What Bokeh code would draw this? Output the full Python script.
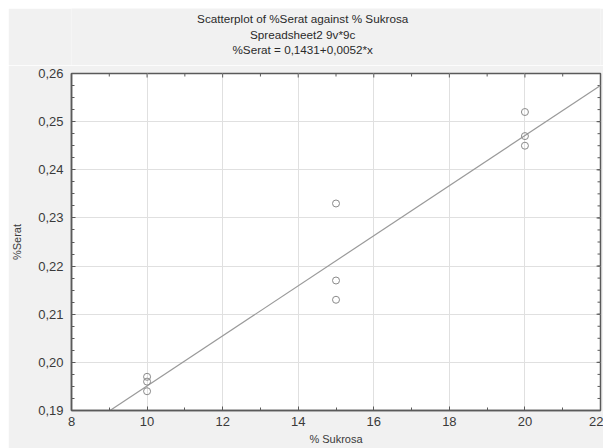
from bokeh.plotting import figure
from bokeh.layouts import column, row, Spacer
from bokeh.models import (Range1d, FixedTicker, CustomJSTickFormatter, ColumnDataSource)
from bokeh.core.properties import value
from bokeh.embed import file_html
from bokeh.resources import INLINE

# ---- data ----
sukrosa = [10, 10, 10, 15, 15, 15, 20, 20, 20]
serat = [0.197, 0.196, 0.194, 0.233, 0.217, 0.213, 0.252, 0.247, 0.245]
intercept = 0.1431
slope = 0.0052
x_ticks = [8, 10, 12, 14, 16, 18, 20, 22]
y_ticks = [0.19, 0.20, 0.21, 0.22, 0.23, 0.24, 0.25, 0.26]
x_minor = [9, 11, 13, 15, 17, 19, 21]
y_minor = [0.19 + 0.0025 * i for i in range(29)]
title_lines = ["Scatterplot of %Serat against % Sukrosa",
               "Spreadsheet2 9v*9c",
               "%Serat = 0,1431+0,0052*x"]
x_label = "% Sukrosa"
y_label = "%Serat"

FONT = "Liberation Sans"
TXT = "#3a3a3a"
AX = "#5a5a5a"
BG = "#f1f1f1"
X0, X1, Y0, Y1 = 8, 22, 0.19, 0.26
W = 595
TITLE_H = 57
MAIN_H = 383
B_LEFT, B_RIGHT, B_TOP, B_BOTTOM = 58, 3, 8, 38

# ---- title strip (a figure whose range is in pixels) ----
t = figure(width=W, height=TITLE_H, output_backend="svg", toolbar_location=None,
           x_range=Range1d(0, W), y_range=Range1d(0, TITLE_H),
           min_border=0, x_axis_type=None, y_axis_type=None)
t.background_fill_color = BG
t.border_fill_color = BG
t.outline_line_color = None
t.grid.visible = False
title_src = ColumnDataSource(dict(x=[260, 260, 260], y=[47, 31, 16], text=title_lines))
t.text("x", "y", text="text", source=title_src, text_font=value(FONT),
       text_font_size="11.7px", text_color="#2a2a2a", text_align="center",
       text_baseline="middle")

# ---- main scatter plot ----
p = figure(width=W, height=MAIN_H, output_backend="svg", toolbar_location=None,
           x_range=Range1d(X0, X1), y_range=Range1d(Y0, Y1),
           min_border_left=B_LEFT, min_border_right=B_RIGHT, min_border_top=B_TOP,
           min_border_bottom=B_BOTTOM)
p.background_fill_color = "white"
p.border_fill_color = BG
p.outline_line_color = AX
p.outline_line_width = 1.5

p.xaxis.ticker = FixedTicker(ticks=x_ticks, minor_ticks=x_minor)
p.yaxis.ticker = FixedTicker(ticks=y_ticks, minor_ticks=y_minor)
p.xaxis.formatter = CustomJSTickFormatter(code="return tick.toFixed(0);")
p.yaxis.formatter = CustomJSTickFormatter(code="return tick.toFixed(2).replace('.', ',');")
for ax in (p.xaxis[0], p.yaxis[0]):
    ax.axis_line_color = AX
    ax.axis_line_width = 1.5
    ax.major_tick_in = 4
    ax.major_tick_out = 0
    ax.minor_tick_in = 3
    ax.minor_tick_out = 0
    ax.major_tick_line_color = AX
    ax.minor_tick_line_color = AX
    ax.major_label_text_font = FONT
    ax.major_label_text_font_size = "13px"
    ax.major_label_text_color = TXT
    ax.axis_label_text_font = FONT
    ax.axis_label_text_font_size = "11px"
    ax.axis_label_text_font_style = "normal"
    ax.axis_label_text_color = TXT
p.xaxis.axis_label = x_label
p.yaxis.axis_label = y_label
p.xaxis.major_label_standoff = 6
p.xaxis.axis_label_standoff = 4
p.yaxis.major_label_standoff = 8
p.yaxis.axis_label_standoff = 12

p.grid.grid_line_color = "#e0e0e0"
p.grid.grid_line_width = 1

# inward ticks on the top and right frame edges
FRAME_W, FRAME_H = W - B_LEFT - B_RIGHT, MAIN_H - B_TOP - B_BOTTOM
dy_major = (Y1 - Y0) * 4 / FRAME_H
dy_minor = (Y1 - Y0) * 3 / FRAME_H
dx_major = (X1 - X0) * 4 / FRAME_W
dx_minor = (X1 - X0) * 3 / FRAME_W
p.segment(x0=x_ticks, y0=[Y1] * len(x_ticks), x1=x_ticks,
          y1=[Y1 - dy_major] * len(x_ticks), line_color=AX, line_width=1)
p.segment(x0=x_minor, y0=[Y1] * len(x_minor), x1=x_minor,
          y1=[Y1 - dy_minor] * len(x_minor), line_color=AX, line_width=1)
p.segment(x0=[X1] * len(y_ticks), y0=y_ticks, x1=[X1 - dx_major] * len(y_ticks),
          y1=y_ticks, line_color=AX, line_width=1)
p.segment(x0=[X1] * len(y_minor), y0=y_minor, x1=[X1 - dx_minor] * len(y_minor),
          y1=y_minor, line_color=AX, line_width=1)

# regression line
line_x = [X0, X1]
line_y = [intercept + slope * v for v in line_x]
p.line(line_x, line_y, line_color="#9a9a9a", line_width=1.2)

# points
src = ColumnDataSource(dict(x=sukrosa, y=serat))
p.scatter("x", "y", source=src, size=7, fill_color=None, line_color="#8a8a8a",
          line_width=1)

charts = column(t, p, spacing=0)
layout = column(Spacer(width=603, height=8),
                row(Spacer(width=8, height=TITLE_H + MAIN_H), charts, spacing=0),
                spacing=0)
open("out.html", "w").write(file_html(layout, INLINE))
